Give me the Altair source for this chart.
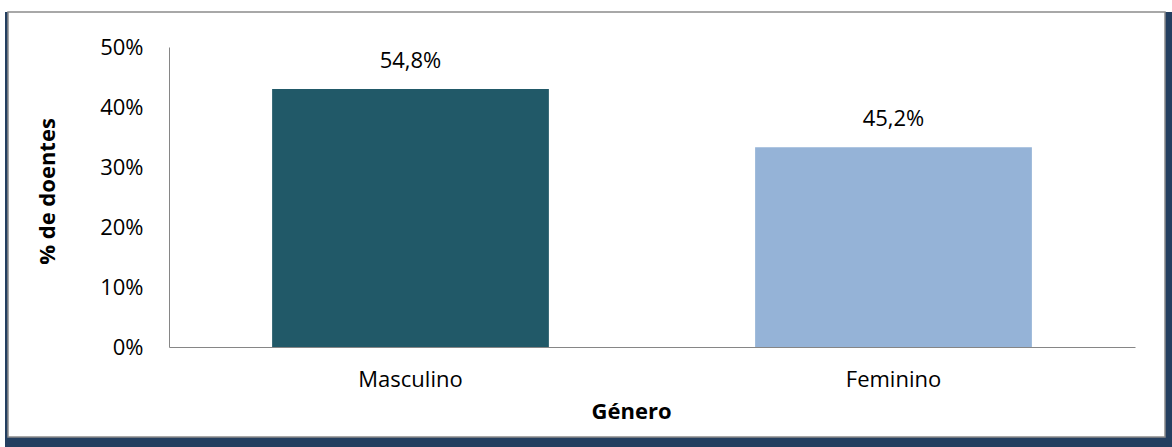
import altair as alt
import pandas as pd

categories = ["Masculino", "Feminino"]
bar_values = [0.430, 0.333]          # bar heights as drawn (fraction)
label_texts = ["54,8%", "45,2%"]      # printed data labels
colors = ["#215968", "#95B3D7"]
y_ticks = [0, 0.1, 0.2, 0.3, 0.4, 0.5]

df = pd.DataFrame({"cat": categories, "val": bar_values, "lab": label_texts, "col": colors})
one = pd.DataFrame({"a": [0]})

FONT = "Open Sans"
PL, PT = 169, 47
W, H = 966, 300

frame_dark = alt.Chart(one).mark_rect(color="#243F60").encode(
    x=alt.value(5 - PL), x2=alt.value(1172 - PL),
    y=alt.value(12 - PT), y2=alt.value(447 - PT),
)
frame_white = alt.Chart(one).mark_rect(fill="white", stroke="#8C8C8C", strokeWidth=1.5).encode(
    x=alt.value(8 - PL), x2=alt.value(1165 - PL),
    y=alt.value(12 - PT), y2=alt.value(437 - PT),
)

xenc = alt.X("cat:N", sort=categories,
             scale=alt.Scale(paddingInner=0.427, paddingOuter=0.2135),
             axis=alt.Axis(title="Género", labelAngle=0, ticks=False, domainColor="#868686",
                           domainWidth=1, labelFontSize=22, labelFont=FONT, labelColor="#000",
                           labelPadding=22, titleFont=FONT, titleFontSize=22, titleFontWeight="bold",
                           titleColor="#000", titleX=462, titleY=71, titleBaseline="alphabetic",
                           titleAnchor=None, zindex=1))
yenc = alt.Y("val:Q", scale=alt.Scale(domain=[0, 0.5]),
             axis=alt.Axis(title="% de doentes", values=y_ticks, format=".0%", ticks=False, grid=False,
                           domainColor="#868686", domainWidth=1, labelFontSize=22, labelFont=FONT,
                           labelColor="#000", labelPadding=26, titleFont=FONT, titleFontSize=22,
                           titleFontWeight="bold", titleColor="#000", titleX=-122, titleY=144,
                           titleAngle=270, titleBaseline="middle", titleAlign="center", zindex=1))

bars = alt.Chart(df).mark_bar().encode(
    x=xenc, y=yenc, color=alt.Color("col:N", scale=None)
)
texts = alt.Chart(df).mark_text(font=FONT, fontSize=22, color="#000", baseline="middle", dy=-28).encode(
    x=alt.X("cat:N", sort=categories), y=alt.Y("val:Q"), text="lab:N"
)

chart = alt.layer(frame_dark, frame_white, bars, texts).properties(
    width=W, height=H,
    autosize=alt.AutoSizeParams(type="none"),
    padding={"left": PL, "top": PT, "right": 1172 - PL - W, "bottom": 447 - PT - H},
    background="white",
).configure_view(stroke=None)

chart.save("out.html", embed_options={"renderer": "svg", "actions": False})
